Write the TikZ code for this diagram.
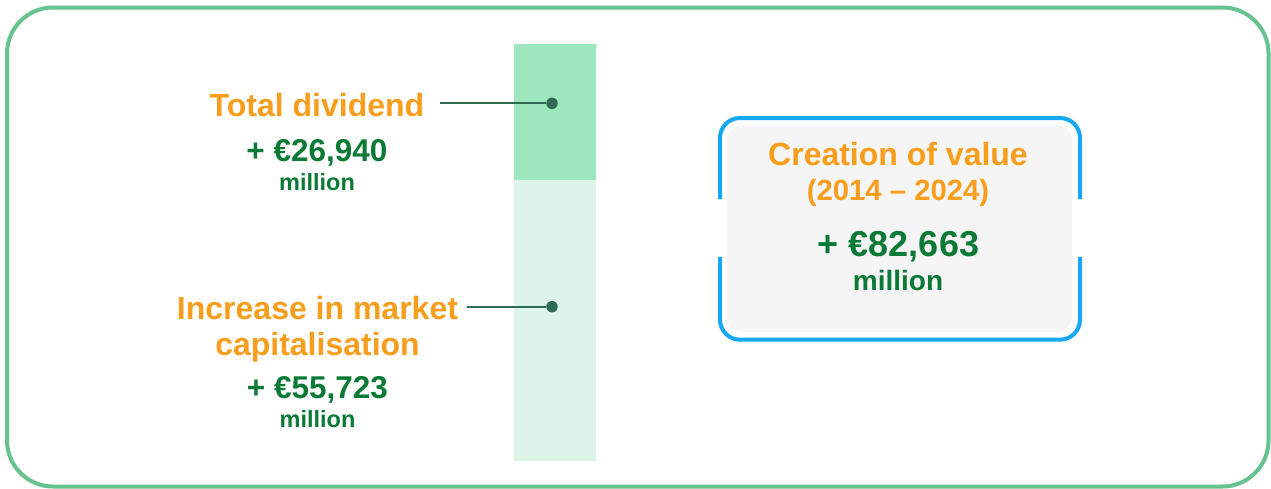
\documentclass[tikz,border=0pt]{standalone}
\usepackage{fontspec}
\setmainfont{Liberation Sans}

\definecolor{valorange}{HTML}{F99D1C}
\definecolor{valgreen}{HTML}{0B7A36}
\definecolor{framegreen}{HTML}{66C28E}
\definecolor{bartop}{HTML}{9EE6BE}
\definecolor{barlow}{HTML}{DDF5E8}
\definecolor{leaddark}{HTML}{2E6B50}
\definecolor{frameblue}{HTML}{17A8F5}
\definecolor{boxgray}{HTML}{F5F5F5}

\tikzset{
	title/.style={anchor=base, inner sep=0pt, text=valorange, font=\bfseries\fontsize{32}{38}\selectfont},
	amount/.style={anchor=base, inner sep=0pt, text=valgreen, font=\bfseries\fontsize{31.5}{36}\selectfont},
	unit/.style={anchor=base, inner sep=0pt, text=valgreen, font=\bfseries\fontsize{23.5}{28}\selectfont},
	dot/.style={circle, fill=leaddark, inner sep=0pt, minimum size=11.5pt},
	lead/.style={draw=leaddark, line width=1.8pt},
	bracket/.style={draw=frameblue, line width=4pt, rounded corners=20pt}
}

\begin{document}
\begin{tikzpicture}[x=1pt, y=-1pt]
				\useasboundingbox (0,0) rectangle (1271,488);
				
				% outer frame
				\draw[framegreen, line width=4pt, rounded corners=46pt] (7,7.5) rectangle (1268.5,486.5);
				
				% stacked bar
				\fill[bartop] (514,44) rectangle (596,180);
				\fill[barlow] (514,180) rectangle (596,461);
				
				% total dividend
				\node[title] (divtitle) at (317,116) {Total dividend};
				\node[amount] (divamount) at (317,161.7) {+ €26,940};
				\node[unit] (divunit) at (317,190.7) {million};
				\node[dot] (divdot) at (552,103.3) {};
				\coordinate (divstart) at (439.5,103.3);
				\draw[lead] (divstart) -- (divdot);
				
				% market capitalisation
				\node[title] (captitle) at (317.5,319.3) {Increase in market};
				\node[title] (captitlelow) at (317.5,355) {capitalisation};
				\node[amount] (capamount) at (317.5,398.3) {+ €55,723};
				\node[unit] (capunit) at (317.5,427.3) {million};
				\node[dot] (capdot) at (552,306.7) {};
				\coordinate (capstart) at (467,306.7);
				\draw[lead] (capstart) -- (capdot);
				
				% creation of value box
				\fill[boxgray, rounded corners=16pt] (727,125) rectangle (1072,332);
				\draw[bracket] (720,199) -- (720,118) -- (1080,118) -- (1080,199);
				\draw[bracket] (720,257) -- (720,339.7) -- (1080,339.7) -- (1080,257);
				\node[title] (valtitle) at (898,165.7) {Creation of value};
				\node[title, font=\bfseries\fontsize{29.3}{34}\selectfont] (valyears) at (898,200) {(2014 – 2024)};
				\node[amount, font=\bfseries\fontsize{36}{42}\selectfont] (valamount) at (898.5,256.7) {+ €82,663};
				\node[unit, font=\bfseries\fontsize{28}{33}\selectfont] (valunit) at (898,290.7) {million};
			
\end{tikzpicture}
\end{document}
